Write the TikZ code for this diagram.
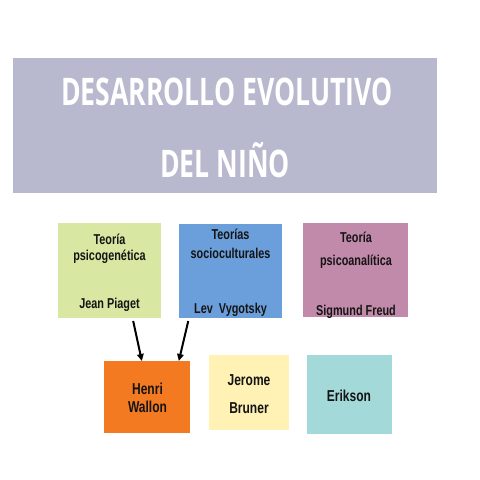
\documentclass[tikz,border=0pt]{standalone}
\usepackage{fontspec}
\usetikzlibrary{arrows.meta,calc}
\newfontfamily\titlefont[FakeStretch=0.70]{Open Sans}
\newfontfamily\boxfont[FakeStretch=0.76]{Liberation Sans}
\definecolor{ctitle}{HTML}{B8B8CF}
\definecolor{cgreen}{HTML}{D8E8A3}
\definecolor{cblue}{HTML}{6B9FDC}
\definecolor{cpink}{HTML}{C28AAA}
\definecolor{corange}{HTML}{F47A22}
\definecolor{cyellow}{HTML}{FFF2B4}
\definecolor{cteal}{HTML}{A4D9DA}
\definecolor{ctext}{HTML}{141414}
\tikzset{
  box/.style={rectangle, draw=none, inner sep=0pt, outer sep=0pt},
  ttl/.style={anchor=base, inner sep=0pt, text=white, font=\titlefont\bfseries\fontsize{38}{40}\selectfont},
  lbl/.style={anchor=base, inner sep=0pt, text=ctext, font=\boxfont\bfseries\fontsize{14.3}{16}\selectfont},
  lblb/.style={anchor=base, inner sep=0pt, text=ctext, font=\boxfont\bfseries\fontsize{15.8}{17}\selectfont},
  arr/.style={draw=black, line width=2pt, -{Triangle[length=7pt,width=6.5pt]}}
}
\begin{document}
\begin{tikzpicture}[x=1pt,y=-1pt]
\useasboundingbox (0,0) rectangle (480,480);
\fill[white] (0,0) rectangle (480,480);
% title
\node[box, fill=ctitle, minimum width=424pt, minimum height=135pt] (title) at (225,125.5) {};
\node[ttl] (t1) at (227,105) {DESARROLLO EVOLUTIVO};
\node[ttl] (t2) at (225,177) {DEL NIÑO};
% top row
\node[box, fill=cgreen, minimum width=103pt, minimum height=95pt] (b1) at (109.5,270.5) {};
\node[lbl] (b1a) at (109.5,244) {Teoría};
\node[lbl] (b1b) at (109.5,260) {psicogenética};
\node[lbl] (b1c) at (109.5,308) {Jean Piaget};
\node[box, fill=cblue, minimum width=103pt, minimum height=94pt] (b2) at (230.5,271) {};
\node[lbl] (b2a) at (230.5,239) {Teorías};
\node[lbl] (b2b) at (230.5,258) {socioculturales};
\node[lbl] (b2c) at (230.5,313) {Lev\ \ Vygotsky};
\node[box, fill=cpink, minimum width=105pt, minimum height=94pt] (b3) at (355.5,270) {};
\node[lbl] (b3a) at (356,242) {Teoría};
\node[lbl] (b3b) at (356,265) {psicoanalítica};
\node[lbl] (b3c) at (356,315) {Sigmund Freud};
% bottom row
\node[box, fill=corange, minimum width=86pt, minimum height=72pt] (hw) at (147,397) {};
\node[lblb] (hwa) at (147.5,394) {Henri};
\node[lblb] (hwb) at (147.5,412) {Wallon};
\node[box, fill=cyellow, minimum width=80pt, minimum height=75pt] (jb) at (249,392.5) {};
\node[lblb] (jba) at (249,385) {Jerome};
\node[lblb] (jbb) at (249,413) {Bruner};
\node[box, fill=cteal, minimum width=85pt, minimum height=79pt] (er) at (349.5,394.5) {};
\node[lblb] (era) at (349,401) {Erikson};
% arrows
\coordinate (s1) at ($(b1.south west)!0.73!(b1.south east)+(0,3)$);
\coordinate (s2) at ($(b2.south west)!0.09!(b2.south east)+(0,3)$);
\draw[arr] (s1) -- ($(hw.north west)!0.44!(hw.north east)$);
\draw[arr] (s2) -- ($(hw.north west)!0.87!(hw.north east)$);
\end{tikzpicture}
\end{document}
